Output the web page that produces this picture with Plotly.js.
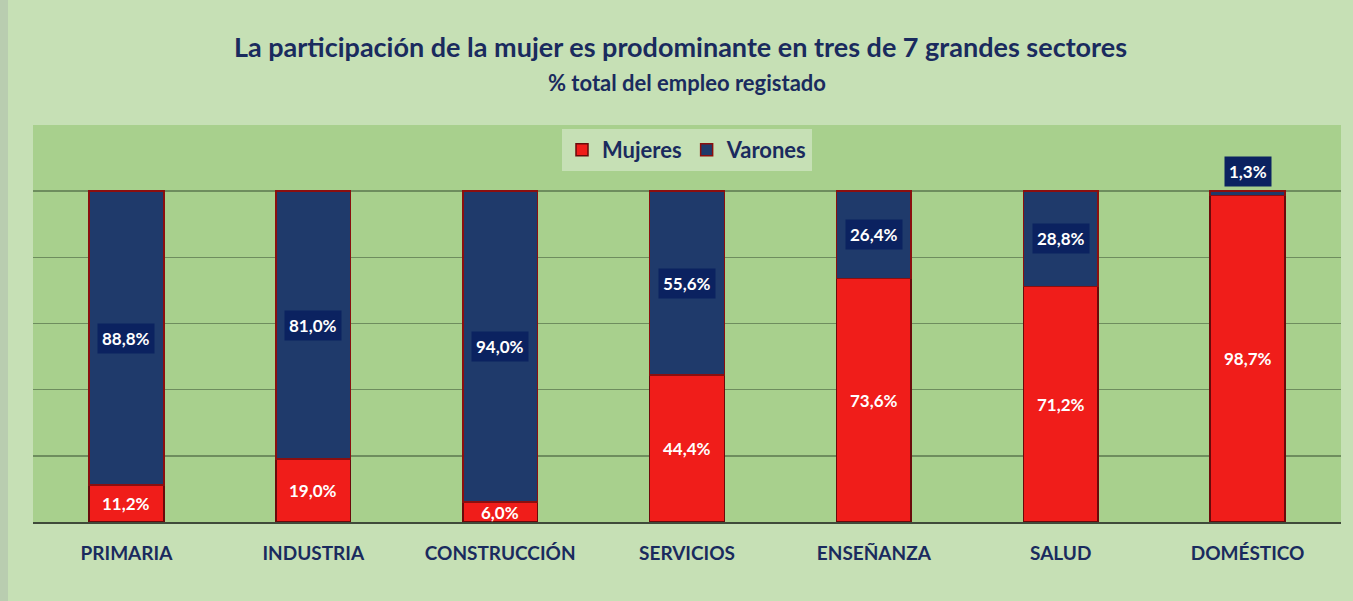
<!DOCTYPE html>
<html>
<head>
<meta charset="utf-8">
<script src="https://cdn.plot.ly/plotly-3.0.1.min.js"></script>
<style>
  html, body { margin: 0; padding: 0; background: #b9cdb0; }
  #chart { position: absolute; left: 8px; top: 0; width: 1345px; height: 601px; }
</style>
</head>
<body>
<div id="chart"></div>
<script>
const categories = ["PRIMARIA", "INDUSTRIA", "CONSTRUCCIÓN", "SERVICIOS", "ENSEÑANZA", "SALUD", "DOMÉSTICO"];
const mujeres = [11.2, 19.0, 6.0, 44.4, 73.6, 71.2, 98.7];
const varones = [88.8, 81.0, 94.0, 55.6, 26.4, 28.8, 1.3];
const seriesNames = ["Mujeres", "Varones"];
const titleText = "La participación de la mujer es prodominante en tres de 7 grandes sectores";
const subtitleText = "% total del empleo registado";

const NAVY_TEXT = "#1a2b5e";
const FONT = "Lato, 'Open Sans', sans-serif";
const fmt = v => v.toFixed(1).replace(".", ",") + "%";

const traces = [
  {
    type: "bar", name: "<b>" + seriesNames[0] + "</b>", x: categories, y: mujeres,
    marker: { color: "#f01d1a", line: { color: "#6a0a0a", width: 1.5 } },
    hoverinfo: "none"
  },
  {
    type: "bar", name: "<b>" + seriesNames[1] + "</b>", x: categories, y: varones,
    marker: { color: "#1f3a6b", line: { color: "#8a0f0f", width: 1.5 } },
    hoverinfo: "none"
  }
];

const annotations = [];
categories.forEach((c, i) => {
  annotations.push({
    x: c, y: mujeres[i] / 2, xref: "x", yref: "y",
    text: "<b>" + fmt(mujeres[i]) + "</b>", showarrow: false,
    font: { family: FONT, size: 17, color: "#ffffff" }
  });
  const small = varones[i] < 5;
  annotations.push({
    x: c, y: small ? mujeres[i] + varones[i] : mujeres[i] + varones[i] / 2,
    xref: "x", yref: "y",
    yanchor: small ? "bottom" : "middle", yshift: small ? 4 : 0,
    text: "<b>" + fmt(varones[i]) + "</b>", showarrow: false,
    bgcolor: "#0b2260", borderpad: 4,
    font: { family: FONT, size: 17, color: "#ffffff" }
  });
});
annotations.push({
  xref: "paper", yref: "paper", x: 0.5, y: 1.108, yanchor: "middle",
  text: "<b>" + subtitleText + "</b>", showarrow: false,
  font: { family: FONT, size: 22, color: NAVY_TEXT }
});

const layout = {
  width: 1345, height: 601,
  paper_bgcolor: "#c6e0b5",
  plot_bgcolor: "#a8d08d",
  margin: { l: 25, r: 12, t: 125, b: 79 },
  barmode: "stack",
  bargap: 0.6,
  showlegend: true,
  title: {
    text: "<b>" + titleText + "</b>",
    x: 0.5, xanchor: "center",
    y: 1 - 48 / 601, yanchor: "middle",
    font: { family: FONT, size: 27, color: NAVY_TEXT }
  },
  legend: {
    orientation: "h", x: 0.5, xanchor: "center", y: 0.99, yanchor: "top",
    traceorder: "normal",
    bgcolor: "#c6e0b5", borderwidth: 0,
    font: { family: FONT, size: 22, color: NAVY_TEXT },
    itemclick: false, itemdoubleclick: false
  },
  xaxis: {
    type: "category",
    showgrid: false,
    showline: true, linecolor: "#3f4a3a", linewidth: 2,
    ticks: "outside", ticklen: 13, tickcolor: "rgba(0,0,0,0)",
    tickfont: { family: FONT, size: 19, color: NAVY_TEXT, weight: "bold" }
  },
  yaxis: {
    range: [0, 120],
    tickvals: [20, 40, 60, 80, 100],
    showticklabels: false,
    showgrid: true, gridcolor: "#6e8d5e", gridwidth: 1.5,
    zeroline: false, showline: false
  },
  annotations: annotations
};

Plotly.newPlot("chart", traces, layout, { displayModeBar: false, staticPlot: true });
</script>
</body>
</html>
